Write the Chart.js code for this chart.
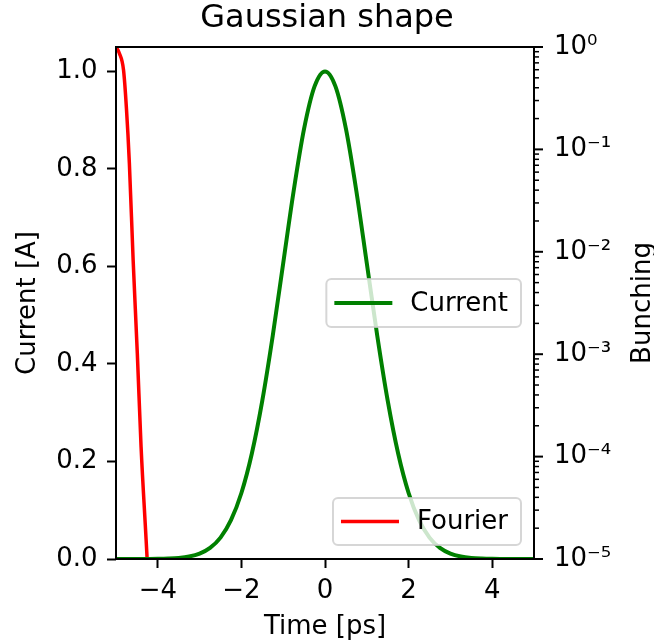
<!DOCTYPE html>
<html><head><meta charset="utf-8">
<script src="https://cdn.jsdelivr.net/npm/chart.js@4/dist/chart.umd.min.js"></script>
<style>html,body{margin:0;padding:0;background:#fff;}#wrap{width:654px;height:644px;}</style>
</head><body><div id="wrap"><canvas id="c" width="654" height="644"></canvas></div>
<script>
// ---- data ----
const timePs = [-5,-4.75,-4.5,-4.25,-4,-3.75,-3.5,-3.25,-3,-2.75,-2.5,-2.25,-2,-1.75,-1.5,-1.25,-1,-0.75,-0.5,-0.25,0,0.25,0.5,0.75,1,1.25,1.5,1.75,2,2.25,2.5,2.75,3,3.25,3.5,3.75,4,4.25,4.5,4.75,5];
const currentA = [0,0,0,0.0001,0.0003,0.0009,0.0022,0.0051,0.0111,0.0228,0.0439,0.0796,0.1353,0.2163,0.3247,0.4578,0.6065,0.7548,0.8825,0.9692,1.0,0.9692,0.8825,0.7548,0.6065,0.4578,0.3247,0.2163,0.1353,0.0796,0.0439,0.0228,0.0111,0.0051,0.0022,0.0009,0.0003,0.0001,0,0,0];
const fourierTime = [-5.00,-4.92,-4.82,-4.75,-4.68,-4.59,-4.49,-4.40,-4.28,-4.15];
const bunching = [1,0.87,0.596,0.250,0.0731,0.00832,0.00102,0.000124,0.0000155,0.00000158];
const xTicks = [-4,-2,0,2,4];
const currentTicks = [0,0.2,0.4,0.6,0.8,1.0];
const bunchingDecades = [1e-5,1e-4,1e-3,1e-2,1e-1,1];
const seriesNames = ['Current','Fourier'];
const titleText = 'Gaussian shape';
const xLabel = 'Time [ps]', yLabel = 'Current [A]', y2Label = 'Bunching';

const FONT = 'DejaVu Sans';
const FS = 26;
Chart.defaults.font.family = FONT;
Chart.defaults.color = '#000';

const sup = {'0':'\u2070','1':'\u00b9','2':'\u00b2','3':'\u00b3','4':'\u2074','5':'\u2075','6':'\u2076','7':'\u2077','8':'\u2078','9':'\u2079','-':'\u207b'};
function isDecade(v){const l=Math.log10(v);return Math.abs(l-Math.round(l))<1e-9;}
function minus(s){return String(s).replace('-','\u2212');}

const framePlugin = {
  id:'frame',
  afterDatasetsDraw(chart){
    const ctx=chart.ctx, a=chart.chartArea, y2=chart.scales.y2;
    ctx.save();
    ctx.strokeStyle='#000';
    y2.ticks.forEach(t=>{
      const p=y2.getPixelForValue(t.value);
      const major=isDecade(t.value);
      ctx.lineWidth=major?2:1.5;
      ctx.beginPath();ctx.moveTo(a.right,p);ctx.lineTo(a.right+(major?9:5),p);ctx.stroke();
    });
    ctx.lineWidth=2;ctx.strokeStyle='#000';
    ctx.strokeRect(a.left,a.top,a.right-a.left,a.bottom-a.top);
    ctx.font=FS+'px "'+FONT+'"';
    const cy=(a.top+a.bottom)/2;
    const drawLegend=(dsIndex,right,centerY,h)=>{
      const ds=chart.data.datasets[dsIndex];
      const tw=ctx.measureText(ds.label).width;
      const w=8+58+18+tw+13;
      const left=right-w, top=centerY-h/2;
      ctx.beginPath();
      ctx.roundRect(left,top,w,h,5);
      ctx.fillStyle='rgba(255,255,255,0.8)';ctx.fill();
      ctx.lineWidth=2;ctx.strokeStyle='rgba(204,204,204,0.8)';ctx.stroke();
      ctx.beginPath();ctx.lineWidth=ds.borderWidth;ctx.strokeStyle=ds.borderColor;
      ctx.moveTo(left+8,centerY);ctx.lineTo(left+66,centerY);ctx.stroke();
      ctx.fillStyle='#000';ctx.textBaseline='middle';ctx.textAlign='left';
      ctx.fillText(ds.label,left+84,centerY+1);
    };
    drawLegend(0,a.right-13,cy,48);
    drawLegend(1,a.right-13,a.bottom-14-23.5,47);
    ctx.restore();
  },
  afterDraw(chart){
    const ctx=chart.ctx,a=chart.chartArea;
    ctx.save();
    ctx.translate(650,(a.top+a.bottom)/2);
    ctx.rotate(-Math.PI/2);
    ctx.font=FS+'px "'+FONT+'"';ctx.fillStyle='#000';
    ctx.textAlign='center';ctx.textBaseline='alphabetic';
    ctx.fillText(y2Label,0,0);
    ctx.restore();
  }
};

new Chart(document.getElementById('c'),{
  type:'line',
  data:{datasets:[
    {label:seriesNames[0],data:timePs.map((x,i)=>({x,y:currentA[i]})),borderColor:'#008000',borderWidth:4,pointRadius:0,cubicInterpolationMode:'monotone',yAxisID:'y',fill:false},
    {label:seriesNames[1],data:fourierTime.map((x,i)=>({x,y:bunching[i]})),borderColor:'#ff0000',borderWidth:3.5,pointRadius:0,cubicInterpolationMode:'monotone',yAxisID:'y2',fill:false}
  ]},
  options:{
    responsive:false,animation:false,devicePixelRatio:1,
    layout:{padding:0},
    plugins:{
      legend:{display:false},tooltip:{enabled:false},
      title:{display:true,text:titleText,color:'#000',font:{size:32,weight:'normal',lineHeight:1},padding:{top:3,bottom:12}}
    },
    scales:{
      x:{type:'linear',position:'bottom',min:-5,max:5,
        afterBuildTicks:s=>{s.ticks=xTicks.map(v=>({value:v}));},
        afterFit:s=>{s.height=85;},
        ticks:{font:{size:FS},color:'#000',padding:7.5,maxRotation:0,autoSkip:false,callback:v=>minus(v)},
        grid:{drawOnChartArea:false,drawTicks:true,tickLength:9,tickColor:'#000',tickWidth:2},
        border:{display:false},
        title:{display:true,text:xLabel,color:'#000',font:{size:FS},padding:{top:0,bottom:1.5}}
      },
      y:{type:'linear',position:'left',min:0,max:1.05,
        afterBuildTicks:s=>{s.ticks=currentTicks.map(v=>({value:v}));},
        afterFit:s=>{s.width=116;},
        ticks:{font:{size:FS},color:'#000',padding:9.5,autoSkip:false,callback:v=>v.toFixed(1)},
        grid:{drawOnChartArea:false,drawTicks:true,tickLength:9,tickColor:'#000',tickWidth:2},
        border:{display:false},
        title:{display:true,text:yLabel,color:'#000',font:{size:FS},padding:{top:12.5,bottom:0}}
      },
      y2:{type:'logarithmic',position:'right',min:1e-5,max:1,
        afterBuildTicks:s=>{
          const t=[];
          bunchingDecades.forEach((d,i)=>{
            if(i<bunchingDecades.length-1){for(let m=1;m<10;m++)t.push({value:d*m});}
            else t.push({value:d});
          });
          s.ticks=t;
        },
        afterFit:s=>{s.width=120;},
        ticks:{font:{size:FS},color:'#000',padding:11,autoSkip:false,
          callback:v=>{if(!isDecade(v))return '';const e=String(Math.round(Math.log10(v)));return '10'+e.split('').map(c=>sup[c]).join('');}},
        grid:{drawOnChartArea:false,drawTicks:true,tickLength:9,tickColor:'rgba(0,0,0,0)'},
        border:{display:false}
      }
    }
  },
  plugins:[framePlugin]
});
</script></body></html>
